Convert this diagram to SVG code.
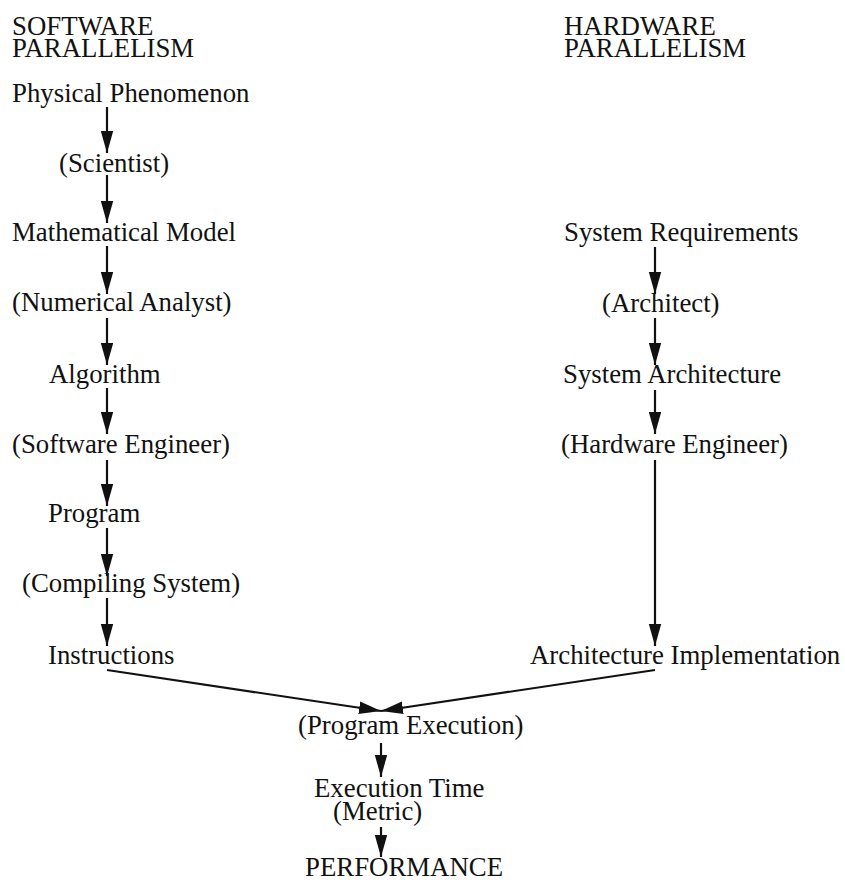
<svg xmlns="http://www.w3.org/2000/svg" width="845" height="880" viewBox="0 0 845 880">
  <style>
    text { font-family: "Liberation Serif", "Times New Roman", serif; font-size: 26.8px; fill: #111; }
    .conn { stroke: #111; stroke-width: 2.2; fill: none; marker-end: url(#arrow); }
  </style>
  <defs>
    <marker id="arrow" markerUnits="userSpaceOnUse" markerWidth="23" markerHeight="14" refX="22" refY="6.5" orient="auto">
      <path d="M0,0.3 L22,6.5 L0,12.7 Z" fill="#111"/>
    </marker>
  </defs>
  <rect width="845" height="880" fill="#fff"/>

  <!-- column headings -->
  <g id="sw-heading">
    <text x="12" y="35">SOFTWARE</text>
    <text x="12" y="57">PARALLELISM</text>
  </g>
  <g id="hw-heading">
    <text x="564" y="35">HARDWARE</text>
    <text x="564" y="57">PARALLELISM</text>
  </g>

  <!-- software chain -->
  <g id="physical-phenomenon"><text x="12" y="102">Physical Phenomenon</text></g>
  <g id="scientist"><text x="59" y="172">(Scientist)</text></g>
  <g id="mathematical-model"><text x="12" y="241">Mathematical Model</text></g>
  <g id="numerical-analyst"><text x="12" y="311">(Numerical Analyst)</text></g>
  <g id="algorithm"><text x="49" y="383">Algorithm</text></g>
  <g id="software-engineer"><text x="12" y="453">(Software Engineer)</text></g>
  <g id="program"><text x="48" y="522">Program</text></g>
  <g id="compiling-system"><text x="22" y="592">(Compiling System)</text></g>
  <g id="instructions"><text x="48" y="664">Instructions</text></g>

  <!-- hardware chain -->
  <g id="system-requirements"><text x="564" y="241">System Requirements</text></g>
  <g id="architect"><text x="602" y="312">(Architect)</text></g>
  <g id="system-architecture"><text x="563" y="383">System Architecture</text></g>
  <g id="hardware-engineer"><text x="561" y="453">(Hardware Engineer)</text></g>
  <g id="architecture-implementation"><text x="530" y="664">Architecture Implementation</text></g>

  <!-- merged outcome -->
  <g id="program-execution"><text x="298" y="734">(Program Execution)</text></g>
  <g id="execution-time">
    <text x="314" y="797">Execution Time</text>
    <text x="333" y="820">(Metric)</text>
  </g>
  <g id="performance"><text x="305" y="876">PERFORMANCE</text></g>

  <!-- connectors -->
  <g id="connectors">
    <line class="conn" x1="107" y1="107" x2="107" y2="153"/>
    <line class="conn" x1="107" y1="175" x2="107" y2="223"/>
    <line class="conn" x1="107" y1="246" x2="107" y2="294"/>
    <line class="conn" x1="107" y1="318" x2="107" y2="365"/>
    <line class="conn" x1="107" y1="388" x2="107" y2="434"/>
    <line class="conn" x1="107" y1="460" x2="107" y2="506"/>
    <line class="conn" x1="107" y1="528" x2="107" y2="576"/>
    <line class="conn" x1="107" y1="598" x2="107" y2="646"/>

    <line class="conn" x1="655" y1="247" x2="655" y2="294"/>
    <line class="conn" x1="655" y1="318" x2="655" y2="365"/>
    <line class="conn" x1="655" y1="390" x2="655" y2="434"/>
    <line class="conn" x1="655" y1="460" x2="655" y2="646"/>

    <line class="conn" x1="107" y1="670" x2="381" y2="711"/>
    <line class="conn" x1="655" y1="670" x2="381" y2="711"/>

    <line class="conn" x1="381" y1="743" x2="381" y2="777"/>
    <line class="conn" x1="381" y1="827" x2="381" y2="857"/>
  </g>
</svg>
